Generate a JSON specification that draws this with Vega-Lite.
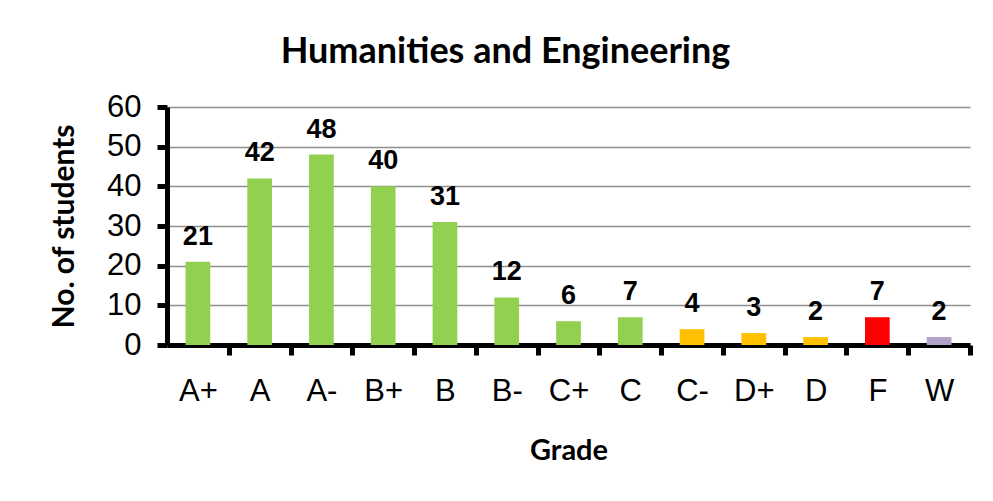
{
  "$schema": "https://vega.github.io/schema/vega-lite/v6.json",
  "autosize": "none",
  "width": 803,
  "height": 238,
  "padding": {"left": 167, "top": 107, "right": 23, "bottom": 156},
  "background": "white",
  "title": {
    "text": "Humanities and Engineering",
    "font": "Lato",
    "fontSize": 36,
    "fontWeight": "bold",
    "color": "black",
    "anchor": "middle",
    "frame": "group",
    "dx": -63,
    "offset": 20
  },
  "data": {
    "values": [
      {"grade": "A+", "students": 21, "group": "pass"},
      {"grade": "A", "students": 42, "group": "pass"},
      {"grade": "A-", "students": 48, "group": "pass"},
      {"grade": "B+", "students": 40, "group": "pass"},
      {"grade": "B", "students": 31, "group": "pass"},
      {"grade": "B-", "students": 12, "group": "pass"},
      {"grade": "C+", "students": 6, "group": "pass"},
      {"grade": "C", "students": 7, "group": "pass"},
      {"grade": "C-", "students": 4, "group": "low"},
      {"grade": "D+", "students": 3, "group": "low"},
      {"grade": "D", "students": 2, "group": "low"},
      {"grade": "F", "students": 7, "group": "fail"},
      {"grade": "W", "students": 2, "group": "withdrawn"}
    ]
  },
  "encoding": {
    "x": {
      "field": "grade",
      "type": "nominal",
      "sort": null,
      "title": "Grade",
      "scale": {"paddingInner": 0.6, "paddingOuter": 0.3},
      "axis": {
        "labelAngle": 0,
        "labelFont": "Liberation Sans",
        "labelFontSize": 31,
        "labelColor": "black",
        "labelPadding": 21,
        "tickOffset": 30.88,
        "labelOffset": -30.88,
        "tickSize": 10,
        "tickWidth": 5,
        "tickColor": "black",
        "domainColor": "black",
        "domainWidth": 5,
        "titleFont": "Lato",
        "titleFontSize": 29,
        "titleFontWeight": "bold",
        "titleColor": "black",
        "titlePadding": 30
      }
    },
    "y": {
      "field": "students",
      "type": "quantitative",
      "title": "No. of students",
      "scale": {"domain": [0, 60]},
      "axis": {
        "values": [0, 10, 20, 30, 40, 50, 60],
        "labelFont": "Liberation Sans",
        "labelFontSize": 31,
        "labelColor": "black",
        "labelPadding": 16,
        "tickSize": 10,
        "tickWidth": 5,
        "tickColor": "black",
        "domainColor": "black",
        "domainWidth": 5,
        "grid": true,
        "gridColor": "#8f8f8f",
        "gridWidth": 1.5,
        "titleFont": "Lato",
        "titleFontSize": 30,
        "titleFontWeight": "bold",
        "titleColor": "black",
        "titlePadding": 27
      }
    }
  },
  "layer": [
    {
      "mark": {"type": "bar"},
      "encoding": {
        "color": {
          "field": "group",
          "type": "nominal",
          "scale": {
            "domain": ["pass", "low", "fail", "withdrawn"],
            "range": ["#92D050", "#FFC000", "#FF0000", "#B1A0C7"]
          },
          "legend": null
        }
      }
    },
    {
      "mark": {
        "type": "text",
        "font": "Liberation Sans",
        "fontSize": 27,
        "fontWeight": "bold",
        "color": "black",
        "baseline": "alphabetic",
        "dy": -17
      },
      "encoding": {
        "text": {"field": "students", "type": "quantitative"}
      }
    }
  ],
  "config": {
    "view": {"stroke": null}
  }
}
